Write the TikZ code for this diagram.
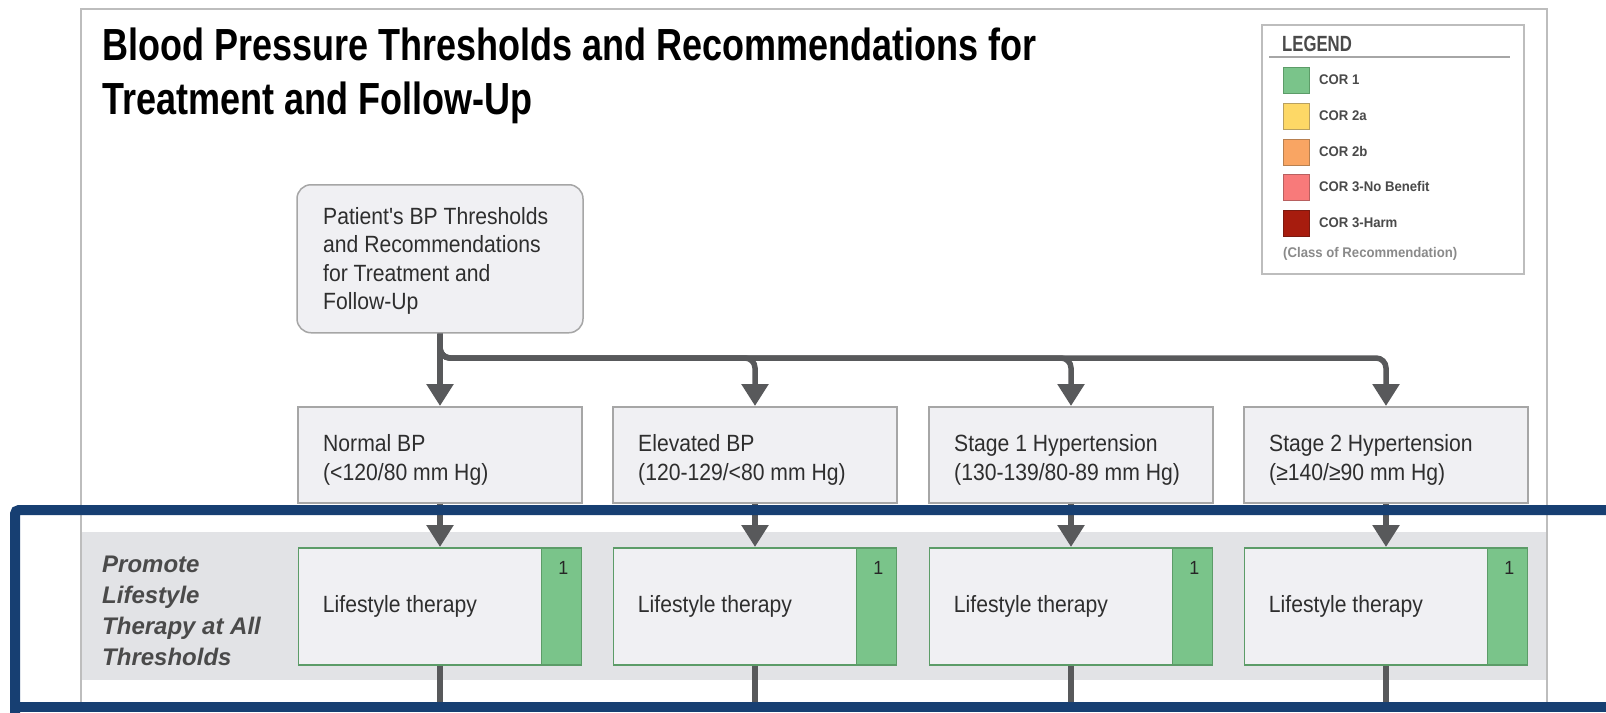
\documentclass[tikz,border=0pt]{standalone}
\usepackage{fontspec}
\setmainfont{Liberation Sans}
\newfontfamily\titlefont[FakeStretch=0.80]{Liberation Sans}
\newfontfamily\bodyfont[FakeStretch=0.9]{Liberation Sans}
\newfontfamily\legfont[FakeStretch=0.76]{Liberation Sans}
\newfontfamily\corfont[FakeStretch=0.94]{Liberation Sans}
\newfontfamily\sidefont{Liberation Sans}
\usetikzlibrary{arrows.meta}

\definecolor{framegray}{HTML}{BDBDBD}
\definecolor{boxfill}{HTML}{F0F0F3}
\definecolor{boxline}{HTML}{A6A6A6}
\definecolor{arrowgray}{HTML}{58595B}
\definecolor{bandgray}{HTML}{E2E3E6}
\definecolor{navy}{HTML}{173F72}
\definecolor{cor1}{HTML}{7AC48A}
\definecolor{cor1line}{HTML}{5C9C68}
\definecolor{cor2a}{HTML}{FDD866}
\definecolor{cor2aline}{HTML}{B8A060}
\definecolor{cor2b}{HTML}{F9A563}
\definecolor{cor2bline}{HTML}{B88050}
\definecolor{cor3nb}{HTML}{F87A7A}
\definecolor{cor3nbline}{HTML}{B86060}
\definecolor{cor3h}{HTML}{A71C0E}
\definecolor{cor3hline}{HTML}{7A1A10}
\definecolor{inkgray}{HTML}{2E2E2E}
\definecolor{leggray}{HTML}{4A4A4A}
\definecolor{notegray}{HTML}{8A8A8A}

\tikzset{
  stagebox/.style={draw=boxline, line width=1.5pt, fill=boxfill, minimum width=284pt,
    minimum height=96pt, inner sep=0pt, anchor=north},
  startbox/.style={draw=boxline, line width=1.5pt, fill=boxfill, rounded corners=14pt,
    minimum width=286pt, minimum height=148pt, inner sep=0pt, anchor=north},
  lifebox/.style={draw=cor1line, line width=1.5pt, fill=boxfill, minimum width=283pt,
    minimum height=117pt, inner sep=0pt, anchor=north},
  corstrip/.style={draw=cor1line, line width=1.5pt, fill=cor1, minimum width=40pt,
    minimum height=117pt, inner sep=0pt, anchor=north east},
  boxtext/.style={anchor=base west, inner sep=0pt, text=inkgray,
    font=\bodyfont\fontsize{23.5}{28}\selectfont},
  cornum/.style={anchor=base, inner sep=0pt, text=black!85,
    font=\corfont\fontsize{19}{21}\selectfont},
  sidetext/.style={anchor=base west, inner sep=0pt, text=leggray,
    font=\sidefont\bfseries\itshape\fontsize{24}{28}\selectfont},
  titletext/.style={anchor=base west, inner sep=0pt, text=black,
    font=\titlefont\bfseries\fontsize{45}{52}\selectfont},
  swatch/.style={minimum width=26pt, minimum height=26pt, inner sep=0pt,
    anchor=north west, line width=1.2pt},
  swatchtext/.style={anchor=base west, inner sep=0pt, text=leggray,
    font=\corfont\bfseries\fontsize{14}{16}\selectfont},
  conn/.style={draw=arrowgray, line width=5.5pt,
    -{Triangle[length=22pt,width=26pt]}},
  dropline/.style={draw=arrowgray, line width=5.5pt},
}

\begin{document}
\begin{tikzpicture}[x=1pt,y=-1pt]
\useasboundingbox (0,0) rectangle (1606,712);
\fill[white] (0,0) rectangle (1606,712);

% page frame
\draw[framegray, line width=2pt] (81,712) -- (81,9) -- (1547,9) -- (1547,712);

% title
\node[titletext] (title1) at (102,60) {Blood Pressure Thresholds and Recommendations for};
\node[titletext] (title2) at (102,114) {Treatment and Follow-Up};

% legend
\node[draw=framegray, line width=2pt, fill=white, minimum width=262pt, minimum height=249pt,
  inner sep=0pt, anchor=north west] (legend) at (1261,24) {};
\node[anchor=base west, inner sep=0pt, text=leggray,
  font=\legfont\bfseries\fontsize{22}{24}\selectfont] (legtitle) at (1282,51) {LEGEND};
\draw[boxline, line width=1.5pt] (1269,57) -- (1510,57);
\node[swatch, fill=cor1, draw=cor1line] (sw1) at (1283,67) {};
\node[swatch, fill=cor2a, draw=cor2aline] (sw2) at (1283,103) {};
\node[swatch, fill=cor2b, draw=cor2bline] (sw3) at (1283,139) {};
\node[swatch, fill=cor3nb, draw=cor3nbline] (sw4) at (1283,174) {};
\node[swatch, fill=cor3h, draw=cor3hline] (sw5) at (1283,210) {};
\node[swatchtext] (lt1) at (1319,84) {COR 1};
\node[swatchtext] (lt2) at (1319,120) {COR 2a};
\node[swatchtext] (lt3) at (1319,156) {COR 2b};
\node[swatchtext] (lt4) at (1319,191) {COR 3-No Benefit};
\node[swatchtext] (lt5) at (1319,227) {COR 3-Harm};
\node[anchor=base west, inner sep=0pt, text=notegray,
  font=\corfont\bfseries\fontsize{14}{16}\selectfont] (legnote) at (1283,257) {(Class of Recommendation)};

% lifestyle band
\fill[bandgray] (82,532) rectangle (1546,680);

% starting box
\node[startbox] (start) at (440,184) {};
\node[boxtext] (s1) at (323,224) {Patient's BP Thresholds};
\node[boxtext] (s2) at (323,252.5) {and Recommendations};
\node[boxtext] (s3) at (323,281) {for Treatment and};
\node[boxtext] (s4) at (323,309.5) {Follow-Up};

% BP categories
\node[stagebox] (n1) at (440,406) {};
\node[stagebox] (n2) at (755,406) {};
\node[stagebox] (n3) at (1071,406) {};
\node[stagebox] (n4) at (1386,406) {};
\node[boxtext] (n1a) at (323,451) {Normal BP};
\node[boxtext] (n1b) at (323,480) {(<120/80 mm Hg)};
\node[boxtext] (n2a) at (638,451) {Elevated BP};
\node[boxtext] (n2b) at (638,480) {(120-129/<80 mm Hg)};
\node[boxtext] (n3a) at (954,451) {Stage 1 Hypertension};
\node[boxtext] (n3b) at (954,480) {(130-139/80-89 mm Hg)};
\node[boxtext] (n4a) at (1269,451) {Stage 2 Hypertension};
\node[boxtext] (n4b) at (1269,480) {(≥140/≥90 mm Hg)};

% lifestyle therapy boxes
\foreach \i/\x in {1/440,2/755,3/1071,4/1386}{
  \node[lifebox] (l\i) at (\x,547) {};
  \node[corstrip] (c\i) at (l\i.north east) {};
  \node[cornum] (k\i) at ([xshift=-19pt]l\i.north east |- 0,574) {1};
  \node[boxtext] (lt\i x) at ([xshift=25pt]l\i.north west |- 0,612) {Lifestyle therapy};
}

\node[sidetext] (side1) at (102,572) {Promote};
\node[sidetext] (side2) at (102,603) {Lifestyle};
\node[sidetext] (side3) at (102,634) {Therapy at All};
\node[sidetext] (side4) at (102,665) {Thresholds};

% connectors
\coordinate (bus) at (0,358);
\coordinate (bottom) at (0,712);
\draw[conn] (start.south) -- (n1.north);
\draw[conn, rounded corners=10pt] (start.south) |- (bus -| n2.north) -- (n2.north);
\draw[conn, rounded corners=10pt] (start.south) |- (bus -| n3.north) -- (n3.north);
\draw[conn, rounded corners=10pt] (start.south) |- (bus -| n4.north) -- (n4.north);
\foreach \i in {1,2,3,4}{
  \draw[conn] (n\i.south) -- (l\i.north);
  \draw[dropline] (l\i.south) -- (l\i.south |- bottom);
}

% highlight frame round the lifestyle row
\draw[navy, line width=10pt, rounded corners=4pt] (15,715) -- (15,510) -- (1625,510);
\draw[navy, line width=10pt] (10,707) -- (1606,707);
\end{tikzpicture}
\end{document}
